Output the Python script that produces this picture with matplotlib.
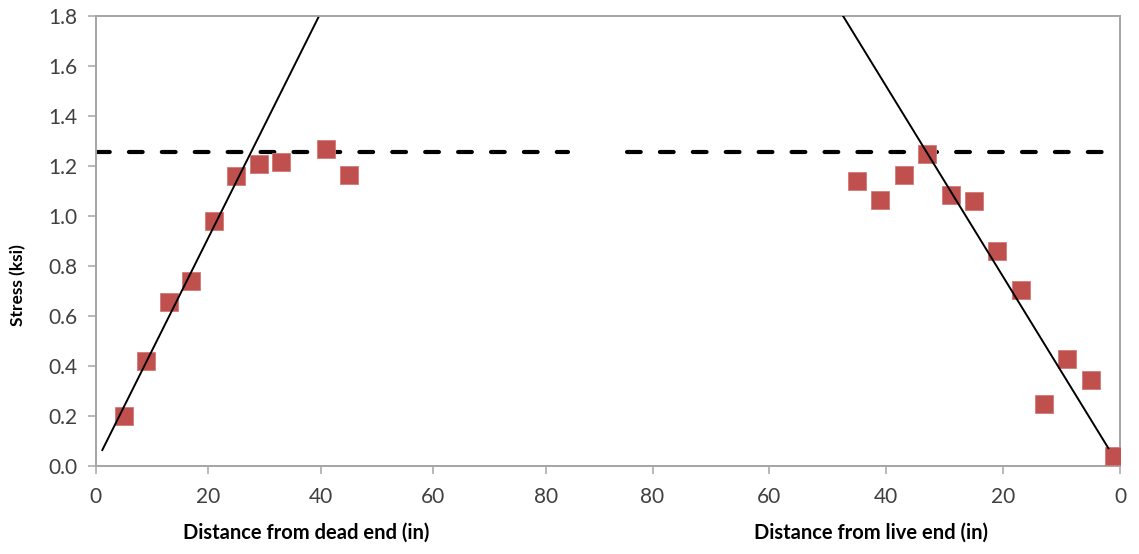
import matplotlib
matplotlib.use("Agg")
import matplotlib.pyplot as plt

plt.rcParams['font.family'] = ['Lato', 'DejaVu Sans']

# dead end side (distance in inches, stress in ksi)
dead_x = [5, 9, 13, 17, 21, 25, 29, 33, 41, 45]
dead_y = [0.20, 0.42, 0.655, 0.74, 0.98, 1.16, 1.21, 1.215, 1.27, 1.165]

# live end side
live_x = [45, 41, 37, 33, 29, 25, 21, 17, 13, 9, 5, 1]
live_y = [1.14, 1.065, 1.165, 1.25, 1.085, 1.06, 0.86, 0.705, 0.25, 0.43, 0.345, 0.04]

# fitted lines (end points)
dead_fit_x = [1.2, 39.7]
dead_fit_y = [0.064, 1.80]
live_fit_x = [2.0, 47.4]
live_fit_y = [0.071, 1.80]

# horizontal dashed level
level = 1.255
dead_level_x = [0, 84]
live_level_x = [84.4, 0]

xticks = [0, 20, 40, 60, 80]
yticks = [0.0, 0.2, 0.4, 0.6, 0.8, 1.0, 1.2, 1.4, 1.6, 1.8]

red = '#C0504D'
grey = '#A6A6A6'
txt = '#404040'

fig = plt.figure(figsize=(11.39, 5.54), dpi=100)
ax = fig.add_axes([0.0839, 0.1588, 0.8995, 0.8123])
ax2 = ax.twiny()

ax.set_xlim(0, 182.0)
ax.set_ylim(0, 1.8)
ax2.set_xlim(175.3, 0)

dash = dict(color='black', lw=3.0, dashes=(3.3, 4.6), dash_capstyle='round', zorder=2)
ax.plot(dead_level_x, [level, level], **dash)
ax2.plot(live_level_x, [level, level], **dash)

ax.plot(dead_x, dead_y, 's', color=red, ms=13.5, mec='#D27A77', mew=0.6, zorder=3)
ax2.plot(live_x, live_y, 's', color=red, ms=13.5, mec='#D27A77', mew=0.6, zorder=3)

ax.plot(dead_fit_x, dead_fit_y, color='black', lw=1.4, zorder=4)
ax2.plot(live_fit_x, live_fit_y, color='black', lw=1.4, zorder=4)

ax.set_xticks(xticks)
ax.set_yticks(yticks)
ax.set_yticklabels(['%.1f' % v for v in yticks])
ax2.set_xticks(xticks)
ax2.xaxis.set_ticks_position('bottom')
ax2.xaxis.set_label_position('bottom')

for a in (ax, ax2):
    for s in a.spines.values():
        s.set_color(grey)
        s.set_linewidth(1.3)
    a.tick_params(axis='both', direction='out', length=6, width=1.1, color=grey,
                  labelsize=15, labelcolor=txt)
    a.tick_params(axis='x', pad=9)
    a.tick_params(axis='y', pad=7)
ax2.tick_params(axis='y', left=False, labelleft=False)

ax.text(0.2055, -0.149, 'Distance from dead end (in)', transform=ax.transAxes,
        ha='center', va='center', fontsize=14.5, fontweight='bold', color='black')
ax.text(0.757, -0.149, 'Distance from live end (in)', transform=ax.transAxes,
        ha='center', va='center', fontsize=14.5, fontweight='bold', color='black')
ax.text(-0.0756, 0.402, 'Stress (ksi)', transform=ax.transAxes, rotation=90,
        ha='center', va='center', fontsize=12.5, fontweight='bold', color='black')

fig.savefig('out.png', dpi=100)
